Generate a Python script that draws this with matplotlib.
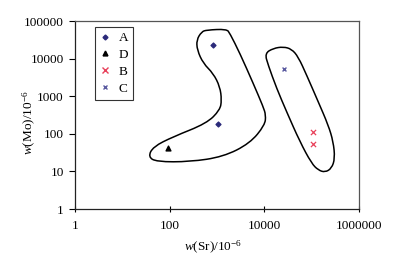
import matplotlib
matplotlib.use("Agg")
import matplotlib.pyplot as plt
from matplotlib.path import Path
from matplotlib.patches import PathPatch
from matplotlib.lines import Line2D

plt.rcParams["font.family"] = "Liberation Serif"
plt.rcParams["mathtext.fontset"] = "custom"
plt.rcParams["mathtext.rm"] = "Liberation Serif"
plt.rcParams["mathtext.it"] = "Liberation Serif:italic"

# sample data, w(Sr) and w(Mo) in 10^-6
a_sr = [830, 1030]
a_mo = [23000, 180]
d_sr = [94]
d_mo = [41]
b_sr = [107000, 107000]
b_mo = [112, 53]
c_sr = [26000]
c_mo = [5300]

# hand drawn outlines (vertices)
left_sr = [372, 475, 607, 1600, 1880, 3060, 5850, 9500, 10800, 10300, 4980,
           1360, 269, 53, 35.4, 45, 119, 607, 1160, 1260, 1160, 836, 514, 384]
left_mo = [31300, 51900, 57700, 61200, 47100, 13800, 2200, 526, 316, 171, 56,
           24.6, 18.1, 18.1, 24.6, 45.4, 83.8, 190, 430, 793, 1790, 4060, 7500, 16900]
right_sr = [10300, 15500, 25200, 37800, 52200, 78500, 138000, 225000, 287000,
            311000, 265000, 192000, 138000, 100000, 56700, 29700, 18300, 12100]
right_mo = [13800, 18800, 20700, 18000, 11200, 3660, 714, 171, 61.7,
            22.3, 12.1, 9.5, 10.9, 16.4, 61.7, 387, 1620, 6760]

x_ticks = [1, 100, 10000, 1000000]
y_ticks = [1, 10, 100, 1000, 10000, 100000]


def smooth_outline(xs, ys):
    # closed quadratic bezier through the midpoints of the vertices
    pts = list(zip(xs, ys))
    n = len(pts)
    mids = []
    for i in range(n):
        x0, y0 = pts[i]
        x1, y1 = pts[(i + 1) % n]
        # midpoint in log space
        mids.append(((x0 * x1) ** 0.5, (y0 * y1) ** 0.5))
    verts = [mids[-1]]
    codes = [Path.MOVETO]
    for i in range(n):
        verts += [pts[i], mids[i]]
        codes += [Path.CURVE3, Path.CURVE3]
    return Path(verts, codes)


fig = plt.figure(figsize=(3.94, 2.63), dpi=100)
ax = fig.add_axes([0.190, 0.205, 0.721, 0.715])

ax.set_xscale("log")
ax.set_yscale("log")
ax.set_xlim(1, 1000000)
ax.set_ylim(1, 100000)

for xs, ys in [(left_sr, left_mo), (right_sr, right_mo)]:
    ax.add_patch(PathPatch(smooth_outline(xs, ys), facecolor="none",
                           edgecolor="black", linewidth=1.1))

ax.scatter(a_sr, a_mo, marker="D", s=6, color="#2b2a7a", zorder=3)
ax.scatter(d_sr, d_mo, marker="^", s=12, color="black", zorder=3)
ax.scatter(b_sr, b_mo, marker="x", s=14, color="#e8405a", linewidths=0.9, zorder=3)
ax.scatter(c_sr, c_mo, marker="x", s=8, color="#5a5aa0", linewidths=1.0, zorder=3)

ax.set_xticks(x_ticks)
ax.set_xticklabels([str(v) for v in x_ticks])
ax.set_yticks(y_ticks)
ax.set_yticklabels([str(v) for v in y_ticks])
ax.minorticks_off()
ax.tick_params(axis="x", direction="inout", length=5, width=0.8, labelsize=9.5, pad=5)
ax.tick_params(axis="y", direction="out", length=4, width=0.8, labelsize=9.5, pad=4)

for side in ["left", "bottom"]:
    ax.spines[side].set_color("#222222")
for side in ["top", "right"]:
    ax.spines[side].set_color("#555555")
for s in ax.spines.values():
    s.set_linewidth(0.9)

ax.set_xlabel(r"$w$(Sr)/10$^{-6}$", fontsize=9.5)
ax.set_ylabel(r"$w$(Mo)/10$^{-6}$", fontsize=9.5)
ax.xaxis.set_label_coords(0.486, -0.16)
ax.yaxis.set_label_coords(-0.13, 0.46)

handles = [
    Line2D([], [], linestyle="none", marker="D", markersize=2.5, color="#2b2a7a"),
    Line2D([], [], linestyle="none", marker="^", markersize=3.5, color="black"),
    Line2D([], [], linestyle="none", marker="x", markersize=4, color="#e8405a"),
    Line2D([], [], linestyle="none", marker="x", markersize=3.5, color="#5a5aa0"),
]
leg = ax.legend(handles, ["A", "D", "B", "C"], loc="upper left",
                bbox_to_anchor=(0.07, 0.97), fontsize=9.5, frameon=True,
                fancybox=False, edgecolor="black", handlelength=0.8,
                handletextpad=0.6, labelspacing=0.35, borderpad=0.4,
                borderaxespad=0)
leg.get_frame().set_linewidth(0.8)

fig.savefig("out.png", dpi=100)
